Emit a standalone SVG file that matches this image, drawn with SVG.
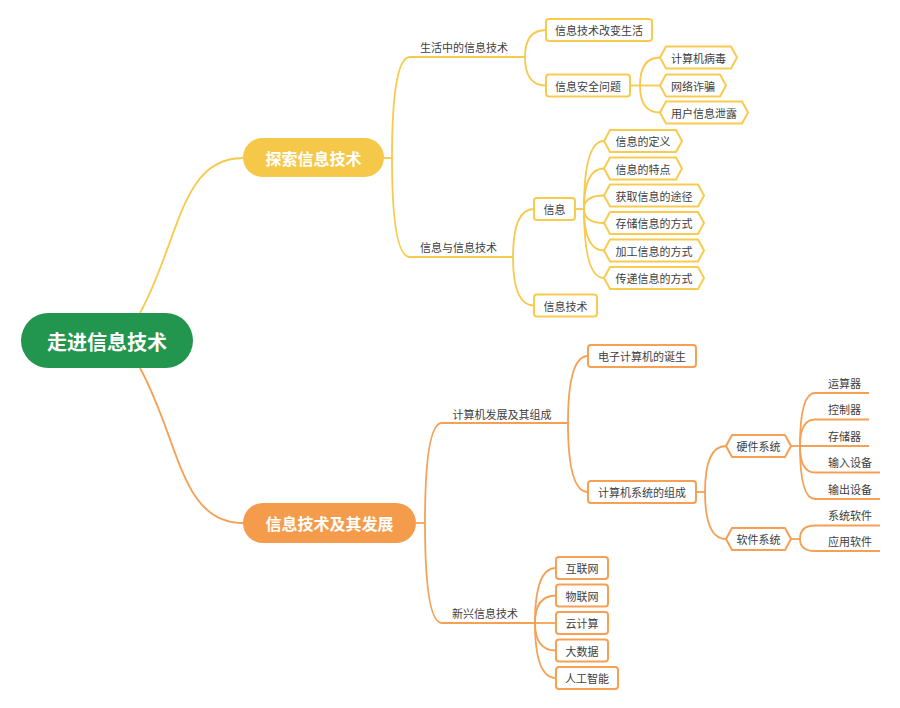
<svg xmlns="http://www.w3.org/2000/svg" width="900" height="708" viewBox="0 0 900 708">
<style>
.t{font-family:"Noto Sans CJK SC","Noto Sans",sans-serif;font-size:11px;fill:#404040;dominant-baseline:central}
.c{text-anchor:middle}
.ly{fill:none;stroke:#F7C94C;stroke-width:1.8}
.lo{fill:none;stroke:#F6A055;stroke-width:1.8}
.by{fill:#fff;stroke:#F8CB50;stroke-width:2;stroke-linejoin:round}
.bo{fill:#fff;stroke:#F6A055;stroke-width:2;stroke-linejoin:round}
.big{font-family:"Noto Sans CJK SC","Noto Sans",sans-serif;font-weight:bold;fill:#fff;text-anchor:middle;dominant-baseline:central}
</style>
<rect width="900" height="708" fill="#fff"/>
<g id="connectors">
<path class="ly" stroke-width="2" d="M140,313 C180,240 180,158 243,158"/>
<path class="ly" d="M384,158 L392,158"/>
<path class="ly" d="M392,158 Q392,57 410,57 L525,57"/>
<path class="ly" d="M392,158 Q392,257 410,257 L513,257"/>
<path class="ly" d="M525,57 Q525,30 546,30"/>
<path class="ly" d="M525,57 Q525,85.5 546,85.5"/>
<path class="ly" d="M630,85.5 L640,85.5"/>
<path class="ly" d="M640,85.5 Q640,57.5 660,57.5"/>
<path class="ly" d="M640,85.5 L660,85.5"/>
<path class="ly" d="M640,85.5 Q640,112.5 660,112.5"/>
<path class="ly" d="M513,257 Q513,209 534,209"/>
<path class="ly" d="M513,257 Q513,305.5 534,305.5"/>
<path class="ly" d="M575,209 L584,209"/>
<path class="ly" d="M584,209 Q584,141 604,141"/>
<path class="ly" d="M584,209 Q584,168.5 604,168.5"/>
<path class="ly" d="M584,209 Q584,195.5 604,195.5"/>
<path class="ly" d="M584,209 Q584,223 604,223"/>
<path class="ly" d="M584,209 Q584,250.5 604,250.5"/>
<path class="ly" d="M584,209 Q584,278 604,278"/>
<path class="lo" stroke-width="2" d="M140,368 C180,441 180,523 243,523"/>
<path class="lo" d="M416,523 L425,523"/>
<path class="lo" d="M425,523 Q425,423 442,423 L568,423"/>
<path class="lo" d="M425,523 Q425,623 442,623 L535,623"/>
<path class="lo" d="M568,423 Q568,356 588,356"/>
<path class="lo" d="M568,423 Q568,492 588,492"/>
<path class="lo" d="M696,492 L705,492"/>
<path class="lo" d="M705,492 Q705,446 726,446"/>
<path class="lo" d="M705,492 Q705,539 726,539"/>
<path class="lo" d="M791,446 L800,446"/>
<path class="lo" d="M800,446 Q800,393 815,393 L869,393"/>
<path class="lo" d="M800,446 Q800,419.5 815,419.5 L869,419.5"/>
<path class="lo" d="M800,446 L869,446"/>
<path class="lo" d="M800,446 Q800,472.5 815,472.5 L880,472.5"/>
<path class="lo" d="M800,446 Q800,499 815,499 L880,499"/>
<path class="lo" d="M791,539 L800,539"/>
<path class="lo" d="M800,539 Q800,525.5 815,525.5 L880,525.5"/>
<path class="lo" d="M800,539 Q800,551 815,551 L880,551"/>
<path class="lo" d="M535,623 Q535,568 556,568"/>
<path class="lo" d="M535,623 Q535,595.5 556,595.5"/>
<path class="lo" d="M535,623 L556,623"/>
<path class="lo" d="M535,623 Q535,650.5 556,650.5"/>
<path class="lo" d="M535,623 Q535,678 556,678"/>
</g>
<g id="root"><rect x="21" y="313" width="172" height="55" rx="27.5" fill="#22954F"/><text class="big" x="107" y="341" font-size="20">走进信息技术</text></g>
<g id="n-explore"><rect x="243" y="138" width="141" height="39" rx="19.5" fill="#F5C84A"/><text class="big" x="313.5" y="158" font-size="16">探索信息技术</text></g>
<g id="n-develop"><rect x="243" y="503" width="173" height="40" rx="20" fill="#F59B4C"/><text class="big" x="329.5" y="523" font-size="16">信息技术及其发展</text></g>
<g id="n-life"><text class="t c" x="464" y="47">生活中的信息技术</text></g>
<g id="n-info-it"><text class="t c" x="458.5" y="247">信息与信息技术</text></g>
<g id="n-change"><rect class="by" x="546" y="19" width="106" height="22" rx="3"/><text class="t c" x="599" y="30">信息技术改变生活</text></g>
<g id="n-security"><rect class="by" x="546" y="74.5" width="84" height="22" rx="3"/><text class="t c" x="588" y="85.5">信息安全问题</text></g>
<g id="n-virus"><path class="by" d="M660,57.5 L666,46.5 L731,46.5 L737,57.5 L731,68.5 L666,68.5 Z"/><text class="t c" x="698.5" y="57.5">计算机病毒</text></g>
<g id="n-fraud"><path class="by" d="M660,85.5 L666,74.5 L720,74.5 L726,85.5 L720,96.5 L666,96.5 Z"/><text class="t c" x="693" y="85.5">网络诈骗</text></g>
<g id="n-leak"><path class="by" d="M660,112.5 L666,101.5 L742,101.5 L748,112.5 L742,123.5 L666,123.5 Z"/><text class="t c" x="704" y="112.5">用户信息泄露</text></g>
<g id="n-info"><rect class="by" x="534" y="198" width="41" height="22" rx="3"/><text class="t c" x="554.5" y="209">信息</text></g>
<g id="n-it"><rect class="by" x="534" y="294.5" width="63" height="22" rx="3"/><text class="t c" x="565.5" y="305.5">信息技术</text></g>
<g id="n-def"><path class="by" d="M604,141 L610,130 L676,130 L682,141 L676,152 L610,152 Z"/><text class="t c" x="643" y="141">信息的定义</text></g>
<g id="n-feat"><path class="by" d="M604,168.5 L610,157.5 L676,157.5 L682,168.5 L676,179.5 L610,179.5 Z"/><text class="t c" x="643" y="168.5">信息的特点</text></g>
<g id="n-get"><path class="by" d="M604,195.5 L610,184.5 L698,184.5 L704,195.5 L698,206.5 L610,206.5 Z"/><text class="t c" x="654" y="195.5">获取信息的途径</text></g>
<g id="n-store"><path class="by" d="M604,223 L610,212 L698,212 L704,223 L698,234 L610,234 Z"/><text class="t c" x="654" y="223">存储信息的方式</text></g>
<g id="n-process"><path class="by" d="M604,250.5 L610,239.5 L698,239.5 L704,250.5 L698,261.5 L610,261.5 Z"/><text class="t c" x="654" y="250.5">加工信息的方式</text></g>
<g id="n-transfer"><path class="by" d="M604,278 L610,267 L698,267 L704,278 L698,289 L610,289 Z"/><text class="t c" x="654" y="278">传递信息的方式</text></g>
<g id="n-comp"><text class="t c" x="502" y="414">计算机发展及其组成</text></g>
<g id="n-new"><text class="t c" x="485" y="612.5">新兴信息技术</text></g>
<g id="n-birth"><rect class="bo" x="588" y="345" width="108" height="22" rx="3"/><text class="t c" x="642" y="356">电子计算机的诞生</text></g>
<g id="n-system"><rect class="bo" x="588" y="481" width="108" height="22" rx="3"/><text class="t c" x="642" y="492">计算机系统的组成</text></g>
<g id="n-hw"><path class="bo" d="M726,446 L732,435 L785,435 L791,446 L785,457 L732,457 Z"/><text class="t c" x="758.5" y="446">硬件系统</text></g>
<g id="n-sw"><path class="bo" d="M726,539 L732,528 L785,528 L791,539 L785,550 L732,550 Z"/><text class="t c" x="758.5" y="539">软件系统</text></g>
<g id="n-alu"><text class="t" x="828" y="382.5">运算器</text></g>
<g id="n-ctrl"><text class="t" x="828" y="409">控制器</text></g>
<g id="n-mem"><text class="t" x="828" y="435.5">存储器</text></g>
<g id="n-in"><text class="t" x="828" y="462">输入设备</text></g>
<g id="n-out"><text class="t" x="828" y="488.5">输出设备</text></g>
<g id="n-syssw"><text class="t" x="828" y="515">系统软件</text></g>
<g id="n-appsw"><text class="t" x="828" y="540.5">应用软件</text></g>
<g id="n-internet"><rect class="bo" x="556" y="557" width="52" height="22" rx="3"/><text class="t c" x="582" y="568">互联网</text></g>
<g id="n-iot"><rect class="bo" x="556" y="584.5" width="52" height="22" rx="3"/><text class="t c" x="582" y="595.5">物联网</text></g>
<g id="n-cloud"><rect class="bo" x="556" y="612" width="52" height="22" rx="3"/><text class="t c" x="582" y="623">云计算</text></g>
<g id="n-bigdata"><rect class="bo" x="556" y="639.5" width="52" height="22" rx="3"/><text class="t c" x="582" y="650.5">大数据</text></g>
<g id="n-ai"><rect class="bo" x="556" y="667" width="62" height="22" rx="3"/><text class="t c" x="587" y="678">人工智能</text></g>
</svg>
